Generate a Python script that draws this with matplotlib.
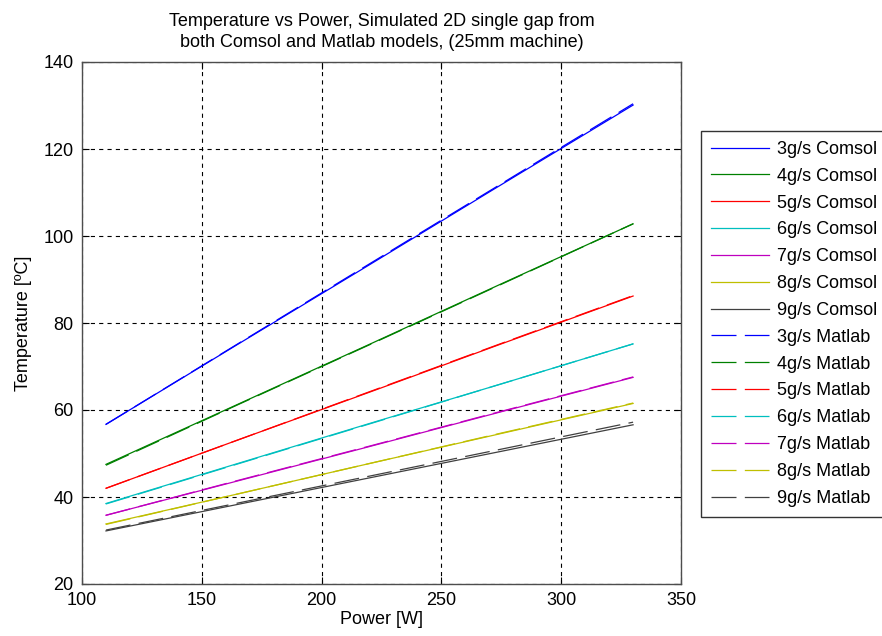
import matplotlib
matplotlib.use("Agg")
import matplotlib.pyplot as plt

plt.rcParams['font.family'] = ['Liberation Sans', 'DejaVu Sans']
plt.rcParams['lines.scale_dashes'] = False

# Input power [W]
power = [110, 165, 220, 275, 330]

# Mass flow rates
flows = ["3g/s", "4g/s", "5g/s", "6g/s", "7g/s", "8g/s", "9g/s"]

# Temperatures [ºC] from the Comsol model
comsol_3 = [56.7, 75.1, 93.4, 111.8, 130.1]
comsol_4 = [47.5, 61.3, 75.1, 89.0, 102.8]
comsol_5 = [42.0, 53.1, 64.1, 75.2, 86.2]
comsol_6 = [38.5, 47.7, 56.9, 66.0, 75.2]
comsol_7 = [35.8, 43.7, 51.6, 59.6, 67.5]
comsol_8 = [33.8, 40.7, 47.7, 54.6, 61.5]
comsol_9 = [32.2, 38.3, 44.4, 50.5, 56.6]

# Temperatures [ºC] from the Matlab model
matlab_3 = [56.7, 75.2, 93.6, 112.0, 130.4]
matlab_4 = [47.3, 61.2, 75.0, 88.9, 102.8]
matlab_5 = [42.0, 53.1, 64.2, 75.3, 86.3]
matlab_6 = [38.4, 47.6, 56.8, 66.0, 75.2]
matlab_7 = [35.8, 43.8, 51.7, 59.7, 67.6]
matlab_8 = [33.7, 40.7, 47.7, 54.7, 61.6]
matlab_9 = [32.4, 38.6, 44.8, 51.0, 57.2]

comsol = [comsol_3, comsol_4, comsol_5, comsol_6, comsol_7, comsol_8, comsol_9]
matlab = [matlab_3, matlab_4, matlab_5, matlab_6, matlab_7, matlab_8, matlab_9]

colors = [(0, 0, 1), (0, 0.5, 0), (1, 0, 0), (0, 0.75, 0.75),
          (0.75, 0, 0.75), (0.75, 0.75, 0), (0.25, 0.25, 0.25)]

fig = plt.figure(figsize=(8.82, 6.36), dpi=100)
ax = fig.add_axes([82 / 882, 1 - 584 / 636, (681 - 82) / 882, (584 - 62) / 636])

for f, t, c in zip(flows, comsol, colors):
    ax.plot(power, t, color=c, lw=0.9, label=f + " Comsol")
for f, t, c in zip(flows, matlab, colors):
    ax.plot(power, t, color=c, lw=0.9, dashes=(18, 6), label=f + " Matlab")

fs = 13

ax.set_xlim(100, 350)
ax.set_ylim(20, 140)
ax.set_xticks([100, 150, 200, 250, 300, 350])
ax.set_yticks([20, 40, 60, 80, 100, 120, 140])
ax.grid(True, color='black', linestyle=(0, (3, 3)), linewidth=0.8)
ax.tick_params(direction='in', top=True, right=True, labelsize=fs,
               length=5, width=0.8, colors='black')
ax.tick_params(axis='x', pad=6)
ax.tick_params(axis='y', pad=6)
for s in ax.spines.values():
    s.set_color((0.3, 0.3, 0.3))
    s.set_linewidth(1.0)

ax.set_xlabel("Power [W]", fontsize=fs, labelpad=1)
ax.set_ylabel("Temperature [ºC]", fontsize=fs, labelpad=8)
ax.set_title("Temperature vs Power, Simulated 2D single gap from\n"
             "both Comsol and Matlab models, (25mm machine)",
             fontsize=fs, pad=11, linespacing=1.3)

leg = fig.legend(loc='upper left', bbox_to_anchor=(701 / 882, 1 - 131 / 636),
                 fontsize=fs, frameon=True, fancybox=False, edgecolor='black',
                 borderpad=0.55, labelspacing=0.545, handlelength=3.2,
                 handletextpad=0.45, borderaxespad=0)
leg.get_frame().set_linewidth(1.0)

fig.savefig("out.png", dpi=100)
